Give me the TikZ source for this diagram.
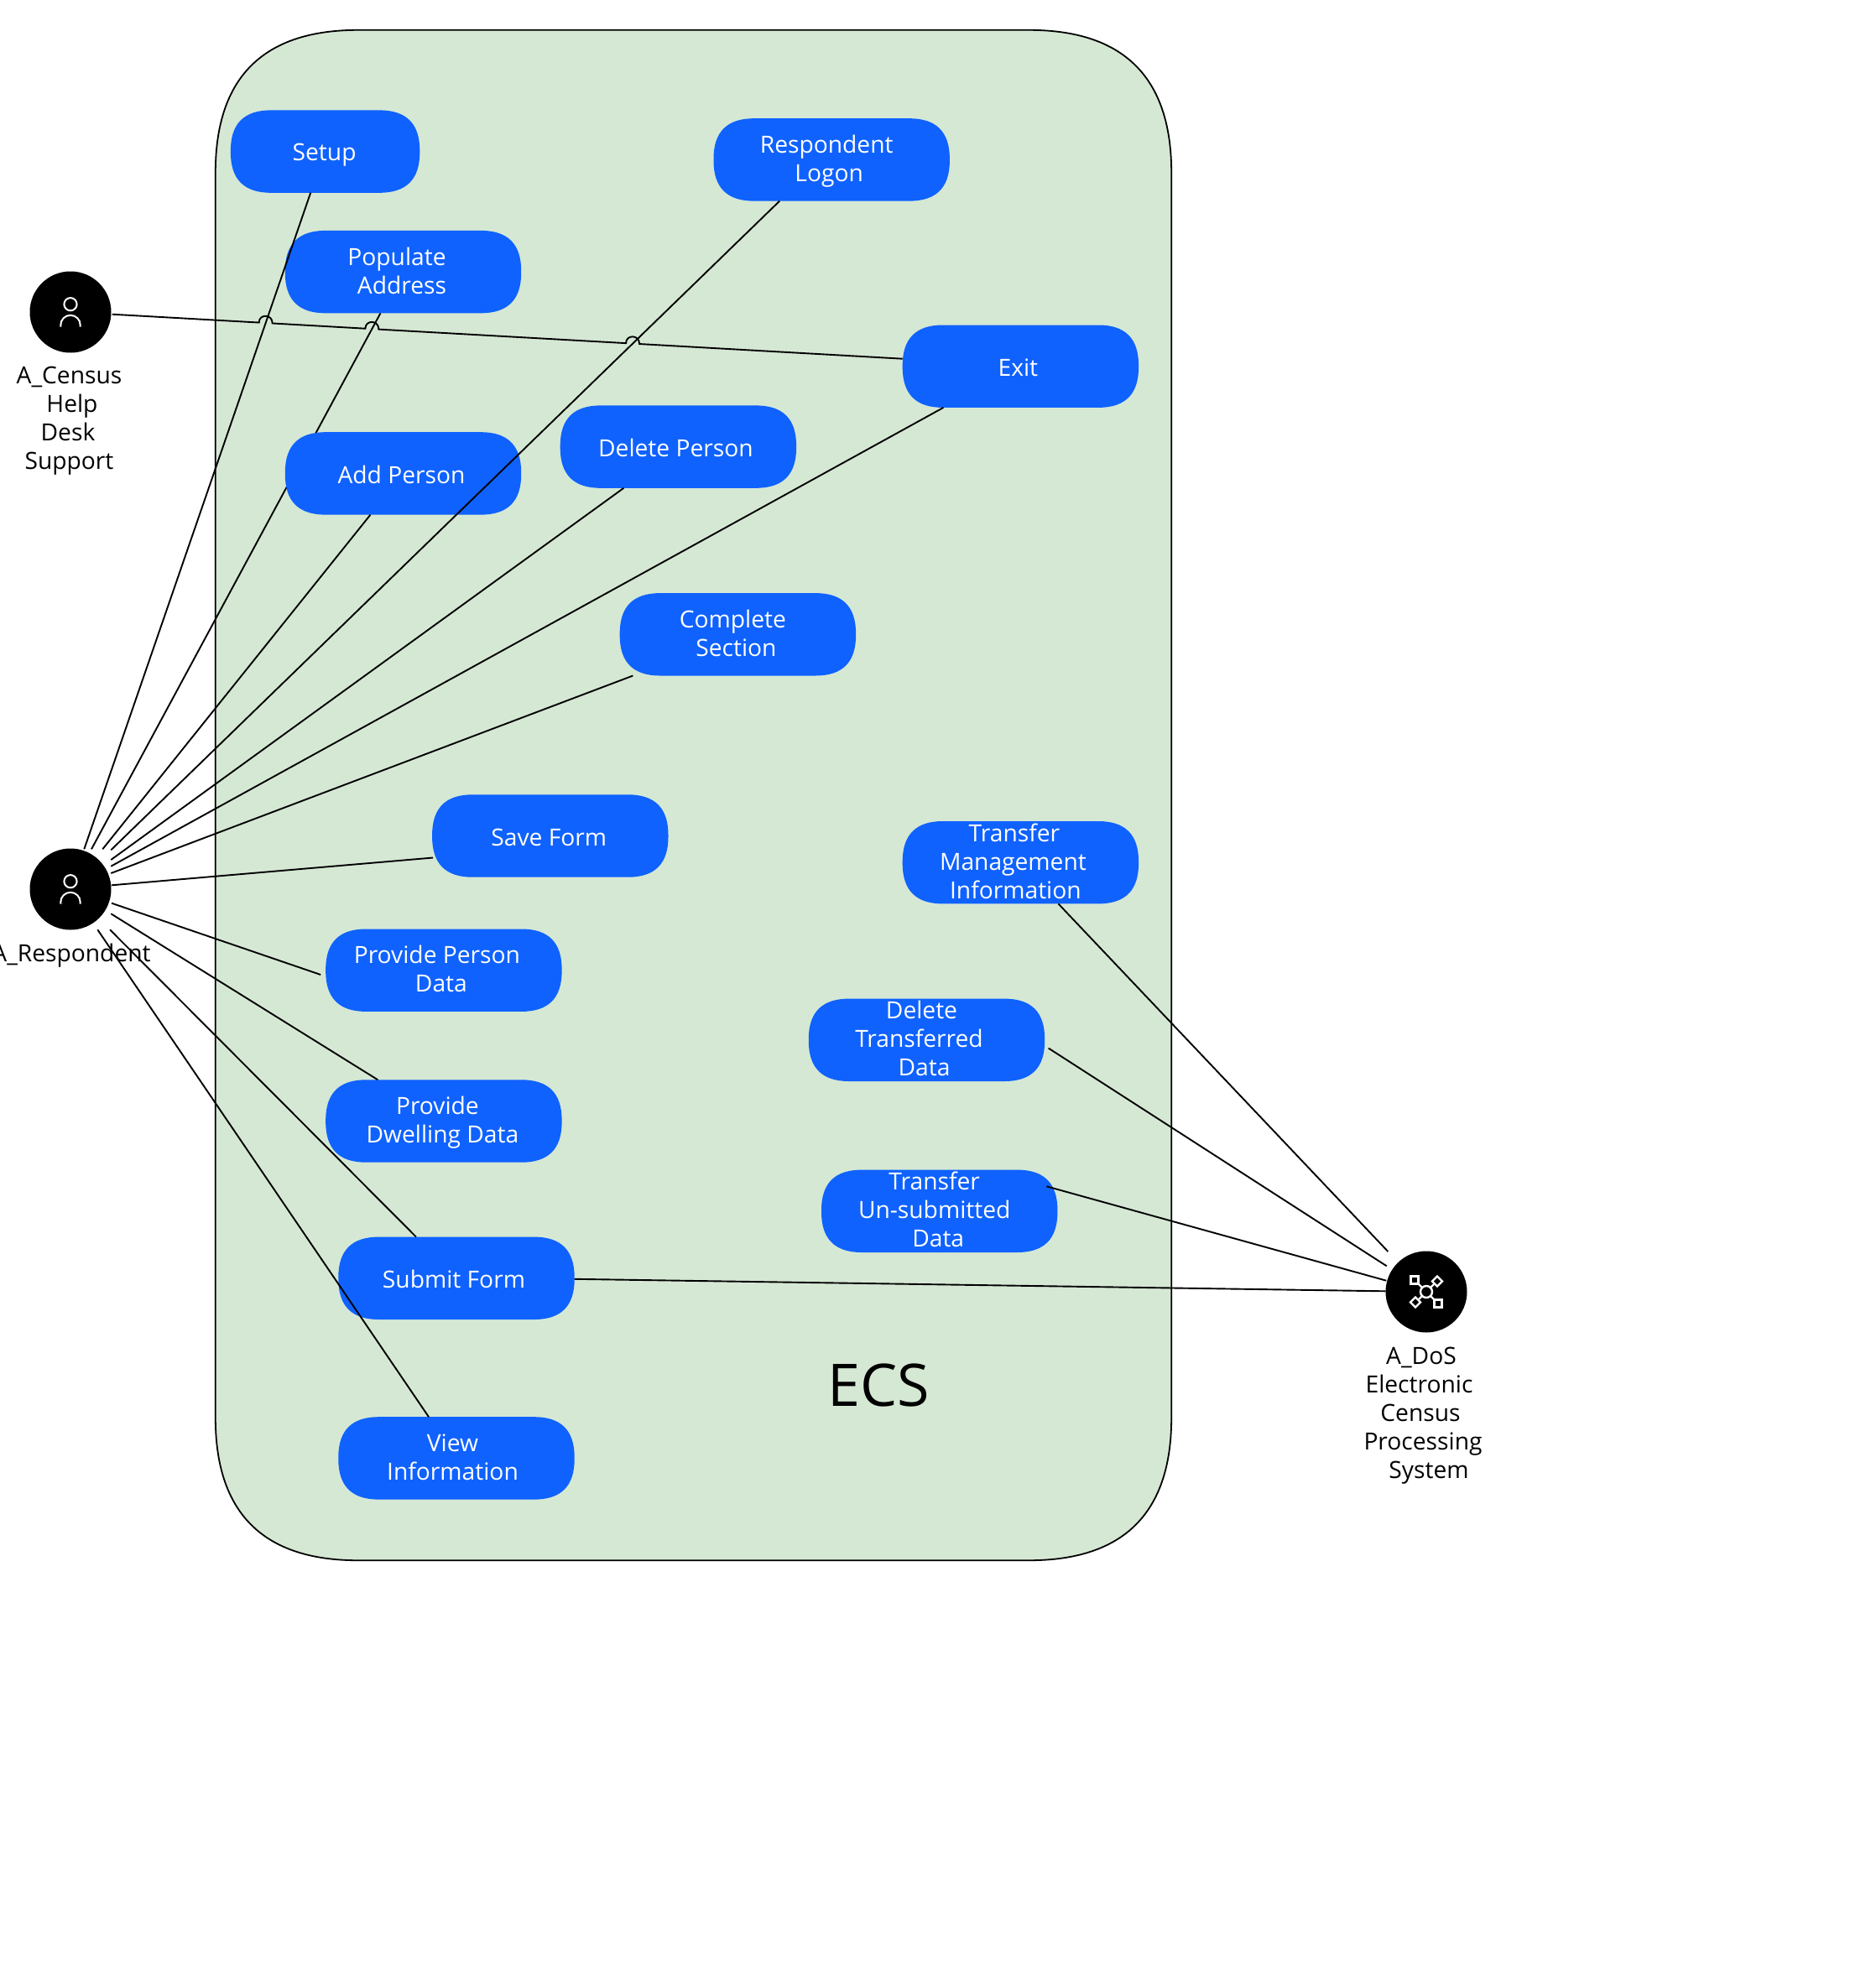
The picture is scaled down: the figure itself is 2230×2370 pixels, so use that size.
\documentclass[tikz,border=0pt]{standalone}
\usepackage{fontspec}
\setmainfont{Open Sans}
\usetikzlibrary{calc,backgrounds}
\definecolor{pillblue}{HTML}{0F62FE}
\definecolor{groupgreen}{HTML}{D5E8D4}
\newcommand\lineat[2]{\makebox[0pt][c]{\hspace*{\dimexpr #1pt*2\relax}\rule{0pt}{24pt}\rule[-6pt]{0pt}{6pt}#2}}
\newcommand\oneline[2]{\makebox[0pt][c]{\hspace*{\dimexpr #1pt*2\relax}\rule{0pt}{29pt}\rule[-5pt]{0pt}{5pt}#2}}
% corner drawn as a quadratic curve, as in the reference
\newcommand\softbox[3]{%
  \path[#3] ($(#1.north west)+(#2,0)$) -- ($(#1.north east)+(-#2,0)$)
    .. controls ($(#1.north east)+(-#2/3,0)$) and ($(#1.north east)+(0,#2/3)$) .. ($(#1.north east)+(0,#2)$)
    -- ($(#1.south east)+(0,-#2)$)
    .. controls ($(#1.south east)+(0,-#2/3)$) and ($(#1.south east)+(-#2/3,0)$) .. ($(#1.south east)+(-#2,0)$)
    -- ($(#1.south west)+(#2,0)$)
    .. controls ($(#1.south west)+(#2/3,0)$) and ($(#1.south west)+(0,-#2/3)$) .. ($(#1.south west)+(0,-#2)$)
    -- ($(#1.north west)+(0,#2)$)
    .. controls ($(#1.north west)+(0,#2/3)$) and ($(#1.north west)+(#2/3,0)$) .. ($(#1.north west)+(#2,0)$) -- cycle;}
\tikzset{
  pill/.style={rectangle,text=white,minimum width=281pt,minimum height=98pt,inner sep=0pt,align=center,font=\fontsize{28.2pt}{34pt}\selectfont},
  pillfill/.style={fill=pillblue},
  groupfill/.style={fill=groupgreen,draw=black,line width=1.8pt},
  actor/.style={circle,fill=black,minimum size=97pt,inner sep=0pt},
  caption/.style={inner sep=0pt,align=center,text=black,font=\fontsize{28.2pt}{34pt}\selectfont},
  wire/.style={draw=black,line width=1.9pt},
  icon/.style={draw=white,line width=2pt},
  personicon/.pic={
    \draw[icon] (0,-9.3) circle (7.6);
    \draw[icon] (-11.7,17.5) -- (-11.7,15.5) arc (180:360:11.7) -- (11.7,17.5);
  },
  networkicon/.pic={
    \draw[icon,line width=2.4pt] (0,0) circle (7);
    \draw[icon,line width=2.4pt] (-5,-5) -- (-10,-10) (5,-5) -- (9,-9) (-5,5) -- (-9,9) (5,5) -- (10,10);
    \draw[icon,line width=2.4pt] (-18.5,-18.5) rectangle (-9.5,-9.5);
    \draw[icon,line width=2.4pt] (18.5,18.5) rectangle (9.5,9.5);
    \draw[icon,line width=2.4pt] (13,-18.5) -- (19,-12.5) -- (13,-6.5) -- (7,-12.5) -- cycle;
    \draw[icon,line width=2.4pt] (-13,18.5) -- (-19,12.5) -- (-13,6.5) -- (-7,12.5) -- cycle;
  }
}
\begin{document}
\begin{tikzpicture}[x=1pt,y=-1pt]
\useasboundingbox (0,0) rectangle (2230,2370);
\node[minimum width=1139pt,minimum height=1824pt,inner sep=0pt] (ecs) at (826.5,948) {};
\node[inner sep=0pt,font=\fontsize{70pt}{72pt}\selectfont] (ecslabel) at (1047,1651) {ECS};

\node[pill,minimum width=225pt] (setup) at (387.6,180.6) {\oneline{-1}{Setup}};
\node[pill] (populate) at (480.5,324.1) {\lineat{-7.5}{Populate}\\\lineat{-1.5}{Address}};
\node[pill] (addp) at (480.5,564.4) {\oneline{-2}{Add Person}};
\node[pill] (logon) at (991.2,190.4) {\lineat{-6}{Respondent}\\\lineat{-3}{Logon}};
\node[pill] (delp) at (808.4,532.6) {\oneline{-3}{Delete Person}};
\node[pill] (exit) at (1216.4,436.7) {\oneline{-3}{Exit}};
\node[pill] (complete) at (879.4,756.3) {\lineat{-6}{Complete}\\\lineat{-2}{Section}};
\node[pill] (save) at (655.8,996.5) {\oneline{-1.5}{Save Form}};
\node[pill] (tmi) at (1216.4,1028.2) {\lineat{-7.5}{Transfer}\\\lineat{-9}{Management}\\\lineat{-6}{Information}};
\node[pill] (ppd) at (528.9,1156.7) {\lineat{-8}{Provide Person}\\\lineat{-3}{Data}};
\node[pill] (dtd) at (1104.5,1239.8) {\lineat{-6}{Delete}\\\lineat{-9}{Transferred}\\\lineat{-3}{Data}};
\node[pill] (pdd) at (528.9,1336.5) {\lineat{-7.5}{Provide}\\\lineat{-1.5}{Dwelling Data}};
\node[pill] (tud) at (1119.7,1443.8) {\lineat{-6}{Transfer}\\\lineat{-6}{Un-submitted}\\\lineat{-1.5}{Data}};
\node[pill] (submit) at (544,1523.8) {\oneline{-3}{Submit Form}};
\node[pill] (view) at (544,1738.4) {\lineat{-4.5}{View}\\\lineat{-4.5}{Information}};

\node[actor] (census) at (84,372) {};
\node[actor] (resp) at (84,1060) {};
\node[actor] (dos) at (1700,1540) {};
\pic at (census) {personicon};
\pic at (resp) {personicon};
\pic at (dos) {networkicon};

\node[caption] (censuslabel) at (84,500) {\lineat{-1.5}{A\_Census}\\\lineat{2}{Help}\\\lineat{-3}{Desk}\\\lineat{-1.5}{Support}};
\node[caption] (resplabel) at (85,1137.5) {\lineat{0}{A\_Respondent}};
\node[caption] (doslabel) at (1696,1686) {\lineat{-2}{A\_DoS}\\\lineat{-4.5}{Electronic}\\\lineat{-3}{Census}\\\lineat{0}{Processing}\\\lineat{7}{System}};

% attachment points
\coordinate (ca) at ($(census)+(49.7,2.7)$);
\coordinate (cb) at ($(exit.west)+(0,-9)$);
\coordinate (s1) at ($(setup.south)+(-17.4,0)$);
\coordinate (r1) at ($(resp)+(16.3,-47.7)$);
\coordinate (s2) at ($(populate.south)+(-27,0)$);
\coordinate (r2) at ($(resp)+(25,-47.7)$);
\coordinate (s3) at ($(logon.south)+(-62,0)$);
\coordinate (r3) at ($(resp)+(48.3,-46.7)$);
\coordinate (j1) at (intersection of ca--cb and s1--r1);
\coordinate (j2) at (intersection of ca--cb and s2--r2);
\coordinate (j3) at (intersection of ca--cb and s3--r3);

\begin{scope}[on background layer]
  \softbox{ecs}{170}{groupfill}
  \draw[wire] (r2) -- (s2);
  \foreach \n in {setup,populate,addp,logon,delp,exit,complete,save,tmi,ppd,dtd,pdd,tud,submit,view}{
    \softbox{\n}{48}{pillfill}
  }
\end{scope}

\draw[wire] (r1) -- (s1);
\draw[wire] (r3) -- (s3);
\draw[wire] ($(resp)+(38.3,-47.7)$) -- ($(addp.south)+(-39,0)$);
\draw[wire] ($(resp)+(48.3,-35)$) -- ($(delp.south)+(-65,0)$);
\draw[wire] ($(resp)+(48.3,-27.3)$) -- ($(exit.south)+(-92,0)$);
\draw[wire] ($(resp)+(48.3,-19)$) -- ($(complete.south)+(-125,0)$);
\draw[wire] ($(resp)+(49,-4.7)$) -- ($(save.west)+(1,26)$);
\draw[wire] ($(resp)+(49,16.7)$) -- ($(ppd.west)+(-6,5.3)$);
\draw[wire] ($(resp)+(48.3,29.3)$) -- ($(pdd.north)+(-78.6,0)$);
\draw[wire] ($(resp)+(47,48.3)$) -- ($(submit.north)+(-48,0)$);
\draw[wire] ($(resp)+(32.3,48.3)$) -- ($(view.north)+(-33,0)$);
\draw[wire] ($(tmi.south)+(45,0)$) -- ($(dos)+(-45.7,-48)$);
\draw[wire] ($(dtd.east)+(4.5,9.8)$) -- ($(dos)+(-47.3,-30.7)$);
\draw[wire] ($(tud.east)+(-13,-29.5)$) -- ($(dos)+(-47.7,-13.3)$);
\draw[wire] ($(submit.east)+(0,1)$) -- ($(dos)+(-48.3,-0.7)$);
\draw[wire] (ca)
  -- ($(j1)+(-8,-0.45)$) .. controls ($(j1)+(-8,-11)$) and ($(j1)+(8,-11)$) .. ($(j1)+(8,0.45)$)
  -- ($(j2)+(-8,-0.45)$) .. controls ($(j2)+(-8,-11)$) and ($(j2)+(8,-11)$) .. ($(j2)+(8,0.45)$)
  -- ($(j3)+(-8,-0.45)$) .. controls ($(j3)+(-8,-11)$) and ($(j3)+(8,-11)$) .. ($(j3)+(8,0.45)$)
  -- (cb);
\end{tikzpicture}
\end{document}
